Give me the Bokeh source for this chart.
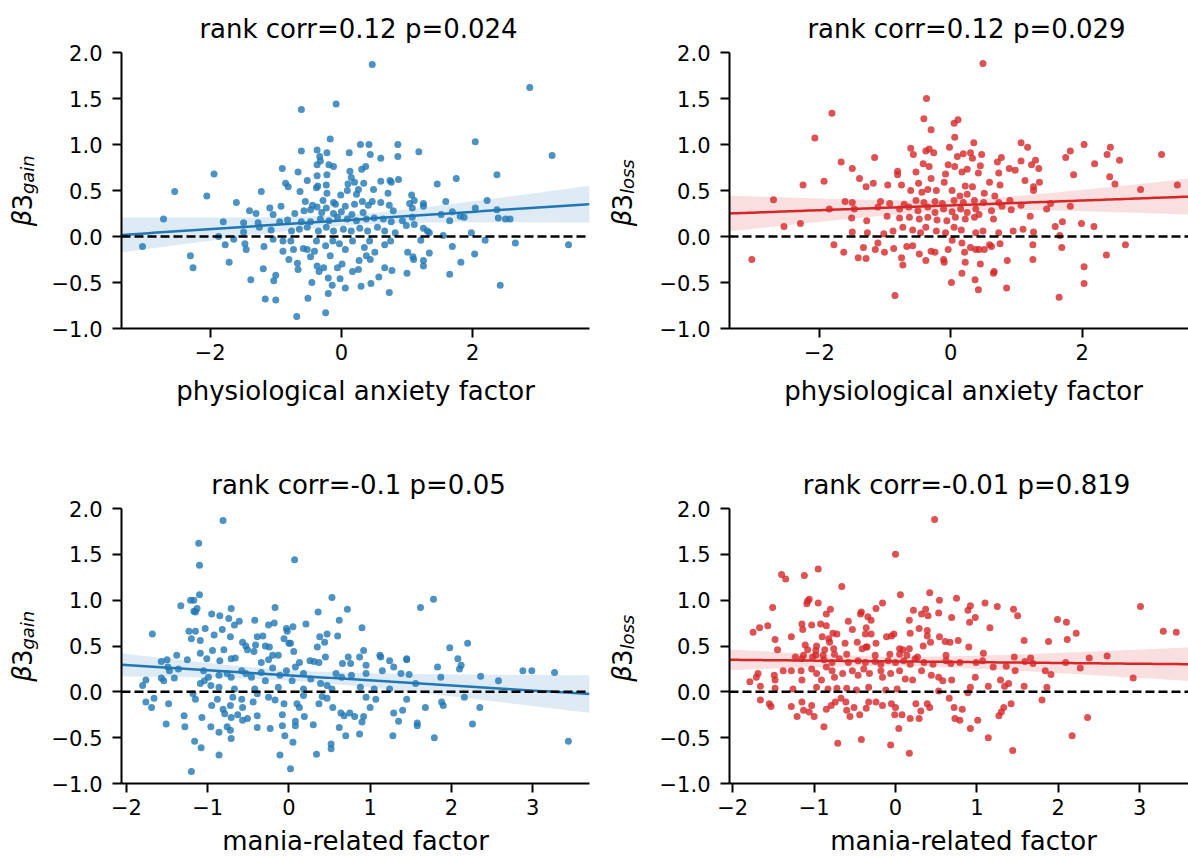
import numpy as np
from bokeh.plotting import figure
from bokeh.models import Range1d, FixedTicker, CustomJSTickFormatter, Label, Span
from bokeh.layouts import column, row
from bokeh.embed import file_html
from bokeh.resources import INLINE

# ---------------- data ----------------
titles = ["rank corr=0.12 p=0.024", "rank corr=0.12 p=0.029",
          "rank corr=-0.1 p=0.05", "rank corr=-0.01 p=0.819"]
xlabels = ["physiological anxiety factor", "physiological anxiety factor",
           "mania-related factor", "mania-related factor"]
ysubs = ["gain", "loss", "gain", "loss"]
y_ticks = [-1.0, -0.5, 0.0, 0.5, 1.0, 1.5, 2.0]
x_ticks_top = [-2, 0, 2]
x_ticks_bottom = [-2, -1, 0, 1, 2, 3]

anx_gain_x = [0.47,2.87,-0.08,-0.61,-0.17,0.29,0.42,0.86,2.04,3.21,1.18,-0.61,-0.37,-0.22,0.12,0.44,0.60,0.86,-0.33,-0.32,-0.37,-0.19,-0.12,0.37,0.31,-0.90,-1.94,-0.66,-0.37,-0.22,1.75,2.37,0.87,0.74,0.76,0.60,0.13,0.15,-0.52,-0.36,-0.23,-0.85,-0.81,0.10,0.20,0.34,1.46,-2.54,-1.22,-0.63,-0.38,0.09,0.26,0.49,0.71,-2.05,-0.22,-0.01,0.23,1.07,2.22,1.59,-1.60,-0.55,-0.28,-0.12,0.32,0.47,0.60,1.04,1.25,1.11,2.37,2.04,1.08,1.25,-1.09,-0.92,-0.44,-0.37,-0.23,-0.09,0.06,0.20,0.41,0.73,0.79,-1.40,-1.30,-1.04,-0.71,-0.57,-0.47,-0.30,-0.12,0.00,0.16,0.33,1.69,1.81,1.87,1.52,2.39,2.50,2.57,1.65,-2.71,-1.80,-1.49,-1.27,-0.94,-0.82,-0.61,-0.47,-0.32,-0.19,-0.06,0.09,0.23,0.38,0.50,0.64,0.76,0.93,1.11,1.08,0.99,-1.49,-1.25,-1.07,-0.76,-0.64,-0.52,-0.35,-0.23,-0.12,0.03,0.15,0.28,0.40,0.55,0.66,0.82,1.25,1.31,1.34,1.98,1.55,-1.87,2.19,2.65,3.46,-3.03,-1.64,-1.77,-1.47,-1.45,-1.18,-1.04,-0.89,-0.89,-0.77,-0.73,-0.58,-0.52,-0.38,-0.41,-0.24,-0.13,-0.03,0.06,0.17,0.35,0.43,0.51,0.66,0.75,1.01,1.21,1.69,2.03,1.34,-2.30,-2.26,-1.71,-0.80,-0.67,-0.66,-0.47,-0.37,-0.34,-0.27,-0.17,-0.06,0.01,0.17,0.26,0.27,0.38,0.44,0.66,0.77,1.00,1.09,1.10,1.25,1.25,1.82,1.65,-1.19,-1.00,-1.03,-1.38,-0.45,-0.20,-0.02,-0.14,0.06,0.30,0.45,0.57,2.42,-0.20,0.73,-1.16,-1.00,-0.51,-0.24,-0.68]
anx_gain_y = [1.87,1.62,1.44,1.38,1.06,1.00,1.00,1.00,1.03,0.88,0.92,0.93,0.94,0.91,0.91,0.89,0.85,0.87,0.87,0.82,0.78,0.78,0.76,0.76,0.73,0.74,0.68,0.70,0.66,0.67,0.63,0.67,0.62,0.61,0.59,0.60,0.71,0.64,0.61,0.55,0.56,0.58,0.54,0.57,0.59,0.58,0.57,0.49,0.49,0.49,0.53,0.50,0.51,0.51,0.47,0.44,0.47,0.45,0.46,0.45,0.39,0.38,0.37,0.38,0.39,0.37,0.38,0.38,0.37,0.36,0.36,0.39,0.29,0.31,0.31,0.33,0.31,0.33,0.34,0.32,0.31,0.35,0.33,0.35,0.34,0.34,0.28,0.28,0.25,0.24,0.25,0.28,0.29,0.26,0.25,0.27,0.24,0.26,0.27,0.22,0.21,0.24,0.20,0.19,0.19,0.17,0.19,0.16,0.15,0.15,0.16,0.18,0.16,0.16,0.19,0.17,0.21,0.19,0.17,0.19,0.20,0.19,0.16,0.17,0.13,0.21,0.12,0.05,0.10,0.07,0.06,0.08,0.10,0.06,0.10,0.06,0.08,0.06,0.09,0.06,0.10,0.06,0.04,0.09,0.06,0.04,0.04,0.01,0.00,-0.04,-0.07,-0.09,-0.11,-0.03,-0.09,-0.08,-0.14,-0.11,-0.03,-0.05,-0.16,-0.05,-0.14,-0.13,-0.14,-0.05,-0.16,-0.10,-0.05,-0.08,-0.14,-0.05,-0.12,-0.05,-0.17,-0.09,-0.05,-0.17,-0.04,-0.11,-0.19,-0.18,-0.21,-0.34,-0.28,-0.25,-0.29,-0.36,-0.22,-0.32,-0.38,-0.34,-0.21,-0.34,-0.30,-0.38,-0.36,-0.26,-0.21,-0.25,-0.34,-0.37,-0.40,-0.22,-0.25,-0.26,-0.32,-0.28,-0.41,-0.35,-0.42,-0.48,-0.47,-0.50,-0.45,-0.46,-0.53,-0.56,-0.54,-0.51,-0.44,-0.53,-0.62,-0.61,-0.68,-0.69,-0.67,-0.83,-0.87]

anx_loss_x = [0.49,-0.37,-1.81,-0.41,0.11,0.05,-0.30,-2.07,0.06,0.35,1.07,2.03,1.17,2.43,-0.61,-0.02,-0.38,-0.33,-0.26,1.82,3.21,-0.57,0.19,0.30,0.47,2.38,-1.16,0.10,0.33,0.77,1.75,1.29,2.57,-1.67,0.71,1.07,2.19,-0.42,-0.04,0.06,0.25,0.45,0.89,1.23,1.34,-1.50,-0.33,-0.81,-0.53,0.73,0.98,1.87,2.42,-1.39,-0.81,-0.30,-0.08,0.17,0.42,1.13,1.35,0.59,-1.93,-1.18,-2.25,-1.29,-0.96,2.50,3.45,-0.75,-0.49,-0.10,0.22,0.33,0.75,1.26,2.89,1.26,-0.61,-0.44,-0.35,-0.22,0.02,0.14,0.25,0.51,0.67,-2.70,-1.61,-1.50,-1.07,-0.93,-0.71,-0.53,-0.41,-0.24,-0.13,0.05,0.19,0.36,0.50,0.73,0.90,1.07,1.52,1.82,-1.85,-1.47,-1.11,-0.78,-0.64,-0.50,-0.35,-0.24,-0.11,0.02,0.15,0.25,0.38,0.43,0.62,0.78,0.92,1.46,-1.51,-1.28,-0.97,-0.78,-0.63,-0.48,-0.35,-0.21,-0.06,0.07,0.22,0.36,0.65,1.21,1.99,2.18,-2.29,-2.54,1.70,1.59,-1.50,-1.27,-1.02,-0.88,-0.73,-0.58,-0.46,-0.38,-0.22,-0.08,0.05,0.16,0.38,0.49,0.73,0.95,1.10,1.26,1.66,-1.78,-1.63,-1.33,-1.41,-1.29,-1.15,-1.11,-1.01,-0.87,-0.75,-0.73,-0.67,-0.58,-0.48,-0.38,-0.30,-0.24,-0.11,-0.10,-0.04,0.02,0.17,0.21,0.22,0.17,0.30,0.38,0.43,0.45,0.51,0.59,0.62,0.66,0.65,0.75,0.86,1.25,1.25,1.69,2.66,2.37,2.03,2.03,-3.03,0.01,0.37,0.42,0.85,-0.85,1.65]
anx_loss_y = [1.88,1.50,1.34,1.28,1.27,1.23,1.16,1.07,1.08,1.02,1.02,1.00,0.97,0.97,0.96,0.97,0.93,0.95,0.91,0.93,0.89,0.89,0.90,0.91,0.89,0.89,0.86,0.87,0.85,0.86,0.86,0.83,0.83,0.81,0.81,0.82,0.79,0.79,0.78,0.76,0.73,0.77,0.74,0.78,0.74,0.74,0.76,0.71,0.70,0.69,0.72,0.67,0.65,0.63,0.67,0.63,0.68,0.70,0.69,0.61,0.59,0.59,0.60,0.58,0.56,0.54,0.56,0.57,0.56,0.56,0.58,0.59,0.55,0.54,0.56,0.54,0.51,0.50,0.50,0.48,0.51,0.50,0.50,0.44,0.46,0.47,0.44,0.40,0.38,0.37,0.38,0.36,0.35,0.39,0.37,0.38,0.36,0.39,0.37,0.39,0.37,0.37,0.39,0.34,0.36,0.33,0.30,0.30,0.32,0.30,0.32,0.28,0.32,0.26,0.30,0.27,0.30,0.26,0.30,0.24,0.28,0.33,0.29,0.30,0.20,0.17,0.22,0.20,0.21,0.19,0.21,0.18,0.17,0.21,0.19,0.21,0.19,0.22,0.14,0.11,0.14,0.11,0.16,0.11,0.05,0.04,0.03,0.06,0.10,0.07,0.04,0.10,0.06,0.04,0.10,0.07,0.04,0.06,0.04,0.06,0.08,0.05,0.01,-0.09,-0.17,-0.12,-0.23,-0.24,-0.14,-0.07,-0.17,-0.13,-0.23,-0.31,-0.11,-0.10,-0.19,-0.26,-0.16,-0.17,-0.25,-0.28,-0.14,-0.04,-0.07,-0.17,-0.28,-0.40,-0.12,-0.14,-0.14,-0.30,-0.14,-0.09,-0.11,-0.38,-0.40,-0.08,-0.26,-0.09,-0.25,-0.12,-0.09,-0.20,-0.33,-0.51,-0.25,-0.50,-0.47,-0.58,-0.56,-0.64,-0.66]

mania_gain_x = [-0.81,-1.11,-1.10,0.07,-1.10,-1.21,-1.17,0.53,1.78,1.62,-1.33,-1.13,-1.15,-1.17,-0.71,-0.17,0.72,-0.95,-0.85,0.36,-0.03,-0.74,-0.67,-0.61,-0.42,-0.18,-0.25,0.21,0.62,0.05,0.90,-0.02,-1.68,-1.23,-1.15,-1.03,-0.82,-0.92,-0.72,-1.20,-1.09,-0.39,-0.32,0.38,0.47,0.60,-0.06,0.00,0.02,-0.57,-0.53,-0.41,-0.29,-0.24,0.44,2.20,1.98,-0.94,-0.80,-0.51,-0.43,0.35,0.06,0.92,-1.09,-1.38,-0.20,-0.13,-1.01,-0.85,-0.71,-0.66,0.45,0.73,0.87,1.12,1.13,1.45,2.08,1.45,-1.57,-1.50,-1.25,-0.34,-0.25,0.13,0.26,0.31,0.37,0.66,0.76,0.95,1.24,2.88,2.99,3.27,2.10,2.12,2.58,2.36,1.87,1.83,1.29,1.15,1.38,1.48,-1.49,-1.47,-1.36,-1.57,-1.54,-1.41,-1.76,-1.80,-1.05,-0.99,-1.04,-0.96,-1.09,-0.86,-0.76,-0.71,-0.58,-0.53,-0.46,-0.34,-0.29,-0.20,-0.11,-0.03,0.08,0.04,0.18,0.27,0.39,0.47,0.58,0.65,0.77,0.88,0.95,1.05,1.24,1.56,-0.86,-0.67,-0.42,-0.13,0.18,0.53,-1.18,-1.15,-1.66,-1.69,-1.76,-1.48,-0.88,-0.69,-0.58,-0.39,-0.25,-0.17,-0.06,0.10,0.13,0.18,0.41,0.47,0.37,0.54,0.95,1.07,1.00,1.45,1.68,1.88,1.90,2.16,2.35,-0.95,-0.81,-0.72,-0.57,-0.44,-0.79,-0.71,-0.63,-1.29,-1.07,-0.57,-0.51,-0.39,-0.08,0.08,0.08,0.19,0.30,0.64,0.68,0.75,0.81,0.92,1.29,1.35,1.40,1.58,1.58,2.26,-1.51,-1.28,-0.96,-0.86,-0.76,-0.72,-0.39,-0.23,-0.08,0.62,0.90,0.87,0.70,1.28,1.79,-0.05,0.05,-0.71,-1.16,-1.08,0.52,0.52,3.44,-0.86,-0.11,0.34,0.02,-1.20]
mania_gain_y = [1.87,1.62,1.38,1.44,1.06,1.00,1.00,1.03,1.01,0.92,0.94,0.91,0.87,0.88,0.91,0.92,0.90,0.85,0.83,0.87,0.69,0.80,0.73,0.77,0.78,0.75,0.73,0.74,0.78,0.71,0.70,0.66,0.63,0.66,0.66,0.69,0.68,0.62,0.60,0.58,0.56,0.60,0.61,0.60,0.63,0.61,0.58,0.53,0.53,0.54,0.50,0.51,0.50,0.49,0.54,0.53,0.48,0.45,0.46,0.46,0.44,0.49,0.44,0.45,0.42,0.40,0.40,0.40,0.36,0.34,0.36,0.37,0.38,0.38,0.38,0.40,0.38,0.36,0.36,0.35,0.33,0.35,0.35,0.32,0.35,0.32,0.34,0.33,0.32,0.31,0.31,0.29,0.34,0.23,0.23,0.21,0.25,0.29,0.12,0.17,0.16,0.27,0.27,0.23,0.20,0.19,0.27,0.23,0.25,0.15,0.12,0.15,0.13,0.07,0.23,0.16,0.12,0.07,0.09,0.18,0.20,0.16,0.23,0.20,0.16,0.21,0.12,0.26,0.18,0.23,0.27,0.12,0.20,0.14,0.09,0.07,0.20,0.16,0.18,0.05,0.20,0.03,0.03,0.09,0.05,0.03,0.03,0.05,0.03,0.03,-0.02,-0.08,-0.07,-0.17,-0.11,-0.13,-0.08,-0.06,-0.08,-0.02,-0.06,-0.09,-0.13,-0.13,-0.17,-0.04,-0.05,-0.07,-0.13,-0.17,-0.06,-0.08,-0.17,-0.08,-0.17,-0.11,-0.15,-0.06,-0.17,-0.15,-0.19,-0.15,-0.17,-0.11,-0.24,-0.28,-0.25,-0.26,-0.28,-0.31,-0.29,-0.26,-0.25,-0.32,-0.37,-0.27,-0.36,-0.23,-0.26,-0.23,-0.27,-0.27,-0.23,-0.32,-0.20,-0.34,-0.37,-0.35,-0.35,-0.38,-0.38,-0.44,-0.38,-0.42,-0.39,-0.40,-0.37,-0.39,-0.33,-0.46,-0.48,-0.48,-0.50,-0.48,-0.55,-0.51,-0.54,-0.61,-0.57,-0.62,-0.54,-0.69,-0.69,-0.68,-0.84,-0.87]

mania_loss_x = [0.48,0.00,-0.95,-1.40,-1.35,-1.12,-0.66,0.42,0.06,-1.06,-1.08,0.75,0.54,1.10,1.25,3.01,-0.95,-1.09,-0.16,-0.24,0.92,0.89,1.45,-1.51,0.22,0.37,0.40,0.32,0.53,-0.80,-0.85,-0.42,-0.43,-0.34,0.98,1.50,0.17,0.69,-0.30,-0.58,0.91,1.99,2.10,-1.15,-1.03,-0.92,-0.85,-0.36,1.16,-1.67,-1.57,-1.14,0.29,0.39,-0.53,-1.75,2.22,3.29,3.45,-0.77,-0.72,-0.37,-0.30,0.18,0.39,-0.11,-0.05,-0.02,0.54,-1.28,-0.90,-0.82,-1.48,2.11,1.58,1.88,0.61,0.67,0.77,-0.81,-0.62,-0.47,-0.24,0.43,-1.11,-0.97,-0.36,-0.35,0.90,0.34,-1.45,-0.87,-0.76,0.05,0.09,0.17,-1.08,-0.98,-0.41,1.08,0.62,-1.13,-0.98,-0.89,-0.75,-0.60,-0.25,-0.07,0.05,0.14,2.60,2.38,1.46,1.66,1.59,1.07,0.99,0.27,0.24,0.62,0.68,0.79,2.09,1.69,-1.23,-1.15,-1.02,-0.88,-0.78,-0.69,-0.58,-0.46,-0.37,-0.25,-0.18,-0.09,0.00,0.10,0.18,0.35,0.46,1.20,1.36,1.47,2.27,1.84,1.91,2.92,-1.38,-1.28,-1.16,-1.49,-1.48,-1.69,-1.79,-1.71,-1.15,-1.03,-0.97,-0.91,-0.85,-0.78,-0.75,-0.65,-0.53,-0.46,-0.39,-0.32,-0.18,-0.16,-0.06,0.05,0.12,0.21,0.32,0.44,0.53,0.58,0.69,0.98,1.29,1.39,1.34,1.58,1.86,1.14,0.92,-1.66,-1.48,-1.26,-0.97,-0.83,-0.72,-0.60,-0.48,-0.33,-0.12,0.02,0.53,0.89,-1.66,-1.55,-1.53,-1.28,-1.15,-1.13,-1.21,-1.06,-1.00,-1.03,-0.88,-0.85,-0.79,-0.74,-0.67,-0.61,-0.60,-0.56,-0.51,-0.44,-0.36,-0.33,-0.24,-0.16,-0.05,0.00,-0.01,0.08,0.18,0.25,0.29,0.31,0.39,0.42,0.66,0.72,0.73,0.79,0.82,0.92,1.01,1.27,1.30,1.33,1.42,1.80,2.36,-0.71,-0.42,-0.06,0.04,1.14,2.17,0.17,1.44]
mania_loss_y = [1.88,1.50,1.34,1.28,1.23,1.27,1.15,1.08,1.06,1.01,0.99,1.02,1.00,0.97,0.93,0.93,0.97,0.96,0.97,0.91,0.94,0.89,0.90,0.92,0.89,0.90,0.83,0.85,0.86,0.90,0.85,0.87,0.85,0.82,0.81,0.83,0.78,0.81,0.78,0.77,0.76,0.79,0.76,0.74,0.73,0.74,0.72,0.70,0.70,0.70,0.72,0.68,0.69,0.67,0.68,0.65,0.64,0.66,0.65,0.64,0.63,0.63,0.63,0.64,0.61,0.60,0.61,0.63,0.60,0.60,0.60,0.58,0.57,0.57,0.56,0.55,0.55,0.54,0.56,0.54,0.53,0.54,0.53,0.54,0.51,0.50,0.49,0.49,0.49,0.50,0.46,0.46,0.47,0.47,0.46,0.47,0.46,0.45,0.47,0.42,0.40,0.40,0.40,0.40,0.41,0.41,0.40,0.41,0.41,0.40,0.39,0.37,0.38,0.37,0.33,0.34,0.32,0.38,0.36,0.34,0.31,0.32,0.32,0.31,0.38,0.36,0.38,0.35,0.32,0.36,0.32,0.34,0.32,0.33,0.30,0.34,0.32,0.34,0.30,0.32,0.30,0.27,0.28,0.23,0.26,0.23,0.19,0.15,0.23,0.23,0.23,0.18,0.13,0.20,0.11,0.16,0.13,0.25,0.20,0.13,0.27,0.23,0.16,0.20,0.23,0.18,0.25,0.20,0.23,0.16,0.20,0.23,0.14,0.13,0.23,0.18,0.16,0.12,0.13,0.16,0.13,0.09,0.06,0.06,0.05,0.06,0.05,0.06,0.04,0.03,0.05,0.03,0.04,0.04,0.02,0.05,0.02,0.03,0.01,-0.01,-0.09,-0.13,-0.16,-0.16,-0.11,-0.20,-0.27,-0.22,-0.27,-0.15,-0.38,-0.19,-0.15,-0.11,-0.07,-0.11,-0.20,-0.27,-0.17,-0.25,-0.18,-0.11,-0.11,-0.15,-0.13,-0.17,-0.25,-0.25,-0.29,-0.13,-0.29,-0.21,-0.13,-0.17,-0.07,-0.17,-0.29,-0.31,-0.19,-0.40,-0.31,-0.26,-0.22,-0.17,-0.13,-0.09,-0.28,-0.56,-0.52,-0.58,-0.40,-0.50,-0.48,-0.67,-0.64]

for a, b in [(anx_gain_x, anx_gain_y), (anx_loss_x, anx_loss_y),
             (mania_gain_x, mania_gain_y), (mania_loss_x, mania_loss_y)]:
    assert len(a) == len(b), (len(a), len(b))

FONT = "DejaVu Sans"
BLUE = "#1f77b4"
RED = "#d62728"


def text_fig(w, h, bt=0, bb=0):
    f = figure(width=w, height=h, x_range=Range1d(0, w), y_range=Range1d(0, h - bt - bb),
               output_backend="svg", toolbar_location=None,
               x_axis_location=None, y_axis_location=None,
               min_border_left=0, min_border_right=0, min_border_top=bt, min_border_bottom=bb)
    f.outline_line_color = None
    f.background_fill_color = "white"
    f.border_fill_color = "white"
    f.grid.visible = False
    return f


def add_text(f, x, y, text, size, style="normal", align="center", angle=0.0):
    f.add_layout(Label(x=x, y=y, x_units="screen", y_units="screen", text=text,
                       angle=angle, text_align=align, text_baseline="alphabetic",
                       text_font=FONT, text_font_style=style,
                       text_font_size=size, text_color="black"))


def panel(xs, ys, color, xlim, x_vis_end, xticks, bl, br, bt, bb, fw, fh):
    p = figure(width=bl + fw + br, height=bt + fh + bb,
               x_range=Range1d(xlim[0], x_vis_end), y_range=Range1d(-1, 2),
               output_backend="svg", toolbar_location=None,
               min_border_left=bl, min_border_right=br,
               min_border_top=bt, min_border_bottom=bb)
    p.outline_line_color = None
    p.grid.visible = False
    p.background_fill_color = "white"
    p.border_fill_color = "white"

    xs = np.asarray(xs, dtype=float)
    ys = np.asarray(ys, dtype=float)
    n = len(xs)
    b1, b0 = np.polyfit(xs, ys, 1)
    grid = np.linspace(xlim[0], xlim[1], 120)
    pred = b0 + b1 * grid
    resid = ys - (b0 + b1 * xs)
    s = np.sqrt(np.sum(resid ** 2) / (n - 2))
    sxx = np.sum((xs - xs.mean()) ** 2)
    se = s * np.sqrt(1.0 / n + (grid - xs.mean()) ** 2 / sxx)
    t = 1.97

    p.scatter(xs, ys, size=7, fill_color=color, fill_alpha=0.8, line_color=None)
    p.varea(x=grid, y1=pred - t * se, y2=pred + t * se, fill_color=color, fill_alpha=0.15)
    p.line(grid, pred, line_color=color, line_width=2.5)
    p.add_layout(Span(location=0, dimension="width", line_color="black",
                      line_width=2.5, line_dash="9 4"))

    for ax in (p.xaxis[0], p.yaxis[0]):
        ax.axis_line_color = "black"
        ax.axis_line_width = 2
        ax.major_tick_line_color = "black"
        ax.major_tick_line_width = 2
        ax.major_tick_out = 9
        ax.major_tick_in = 0
        ax.minor_tick_line_color = None
        ax.major_label_text_font = FONT
        ax.major_label_text_font_size = "21px"
        ax.major_label_text_color = "black"
    p.yaxis.ticker = FixedTicker(ticks=y_ticks)
    p.yaxis.formatter = CustomJSTickFormatter(
        code="return tick.toFixed(1).replace('-', '\\u2212');")
    p.yaxis.major_label_standoff = 10
    p.xaxis.ticker = FixedTicker(ticks=xticks)
    p.xaxis.formatter = CustomJSTickFormatter(
        code="return Math.round(tick).toString().replace('-', '\\u2212');")
    p.xaxis.major_label_standoff = 6
    return p


YLAB_W = 45
SHIFT26 = 7.3   # measured baseline offset of 26px labels
SHIFT18 = 5.0


def quadrant(xs, ys, color, xlim, x_vis_end, xticks, title, xlabel, ysub,
             qw, frame_left, br, fw, fh, title_h, xlab_h, xlab_base):
    # title strip (baseline ~16px above the frame top)
    tf = text_fig(qw, title_h)
    add_text(tf, frame_left + 237, 7.3 + SHIFT26, title, "26px")
    # y label strip: same vertical borders as the axes so both frames coincide
    bt, bb = 9, 327 - 9 - fh
    yf = text_fig(YLAB_W, 327, bt, bb)
    y0 = fh / 2.0 - 35.7
    add_text(yf, 29 - SHIFT26, y0, "β", "26px", style="italic", align="left", angle=np.pi / 2)
    add_text(yf, 29 - SHIFT26, y0 + 15.6, "3", "26px", align="left", angle=np.pi / 2)
    add_text(yf, 32 - SHIFT18, y0 + 32.1, ysub, "18px", style="italic", align="left",
             angle=np.pi / 2)
    # the axes
    p = panel(xs, ys, color, xlim, x_vis_end, xticks,
              frame_left - YLAB_W, br, bt, bb, fw, fh)
    # x label strip
    xf = text_fig(qw, xlab_h)
    add_text(xf, frame_left + 234, xlab_base + SHIFT26, xlabel, "26px")
    return column(tf, row(yf, p), xf)


q1 = quadrant(anx_gain_x, anx_gain_y, BLUE, (-3.35, 3.78), 3.78, x_ticks_top,
              titles[0], xlabels[0], ysubs[0], 600, 121, 11, 468, 276, 43, 70, 42)
q2 = quadrant(anx_loss_x, anx_loss_y, RED, (-3.37, 3.77), 3.62, x_ticks_top,
              titles[1], xlabels[1], ysubs[1], 588, 129, 0, 459, 276, 43, 70, 42)
q3 = quadrant(mania_gain_x, mania_gain_y, BLUE, (-2.06, 3.70), 3.70, x_ticks_bottom,
              titles[2], xlabels[2], ysubs[2], 600, 121, 11, 468, 275, 59, 30, 8.5)
q4 = quadrant(mania_loss_x, mania_loss_y, RED, (-2.04, 3.71), 3.60, x_ticks_bottom,
              titles[3], xlabels[3], ysubs[3], 588, 129, 0, 459, 275, 59, 30, 8.5)

layout = column(row(q1, q2), row(q3, q4))
open("out.html", "w").write(file_html(layout, INLINE))
